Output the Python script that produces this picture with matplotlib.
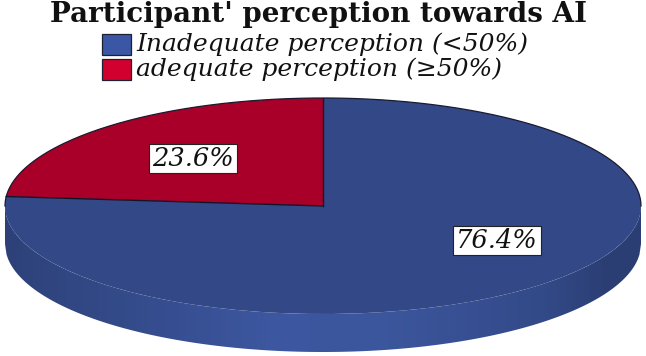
import numpy as np
import matplotlib
matplotlib.use("Agg")
import matplotlib.pyplot as plt
from matplotlib.patches import Rectangle, Polygon
from matplotlib.colors import LinearSegmentedColormap

categories = ["Inadequate perception (<50%)", "adequate perception (≥50%)"]
values = [76.4, 23.6]
value_labels = ["76.4%", "23.6%"]
title = "Participant' perception towards AI"
colors = ["#324887", "#a80028"]
legend_colors = ["#3b56a4", "#d2002e"]

W, H = 646, 356
plt.rcParams['font.family'] = ['DejaVu Serif']
fig = plt.figure(figsize=(W / 100, H / 100), dpi=100, facecolor="white")

# page overlay in pixel coordinates
page = fig.add_axes([0, 0, 1, 1], zorder=2)
page.set_xlim(0, W)
page.set_ylim(H, 0)
page.axis("off")

# pie axes spanning the top-face ellipse and the wall below it
cx, cy, rx, ry, depth = 323, 206, 318, 108, 38
ax = fig.add_axes([(cx - rx) / W, 1 - (cy + ry + depth) / H, 2 * rx / W, (2 * ry + depth) / H], zorder=1)
wedges, _ = ax.pie(values, colors=colors, startangle=90, counterclock=False, radius=1,
                   wedgeprops=dict(linewidth=0, zorder=2))

# side wall with horizontal shading, clipped to the visible band
d = depth / ry
xs = np.linspace(-1, 1, 400)
lower = -np.sqrt(1 - xs ** 2)
band = np.column_stack([np.r_[xs, xs[::-1]], np.r_[lower, (lower - d)[::-1]]])
clip = Polygon(band, transform=ax.transData, facecolor="none", edgecolor="none")
ax.add_patch(clip)
cmap = LinearSegmentedColormap.from_list("wall", [
    (0.0, "#2d4078"), (0.06, "#30457f"), (0.25, "#364e90"), (0.42, "#3d57a0"),
    (0.6, "#3c569d"), (0.85, "#334a88"), (0.95, "#2b3e74"), (1.0, "#2b3e74")])
im = ax.imshow(np.linspace(0, 1, 400).reshape(1, -1), cmap=cmap, aspect="auto",
               extent=(-1, 1, -1 - d, 0), zorder=1)
im.set_clip_path(clip)
ax.set_aspect("auto")
ax.set_xlim(-1, 1)
ax.set_ylim(-1 - d, 1)
ax.axis("off")

# outline of upper rim and slice dividers
theta = np.radians(np.linspace(0, 180, 300))
ax.plot(np.cos(theta), np.sin(theta), color="#1a1a30", lw=0.9, clip_on=False, zorder=3)
a_end = np.radians(90 + values[1] / sum(values) * 360)
ax.plot([0, 0], [1, 0], color="#141428", lw=1.0, zorder=3)
ax.plot([np.cos(a_end), 0], [np.sin(a_end), 0], color="#141428", lw=1.0, zorder=3)

# title
page.text(318.5, 21.5, title, ha="center", va="baseline", fontsize=20, fontweight="bold", color="#111111")

# legend
for y, col, lab in zip([44, 69], legend_colors, categories):
    page.add_patch(Rectangle((102, y - 10.5), 29, 21, facecolor=col, edgecolor="#1c2030", lw=0.9))
    page.text(136, y, lab, ha="left", va="center", fontsize=18, style="italic", color="#111111")

# value labels
for (x, y), lab in zip([(496.5, 240.5), (193, 158.5)], value_labels):
    page.add_patch(Rectangle((x - 44, y - 14.5), 88, 29, facecolor="white", edgecolor="#222222", lw=0.8))
    page.text(x, y, lab, ha="center", va="center", fontsize=18.5, style="italic", color="#111111")

fig.savefig("out.png", dpi=100)
